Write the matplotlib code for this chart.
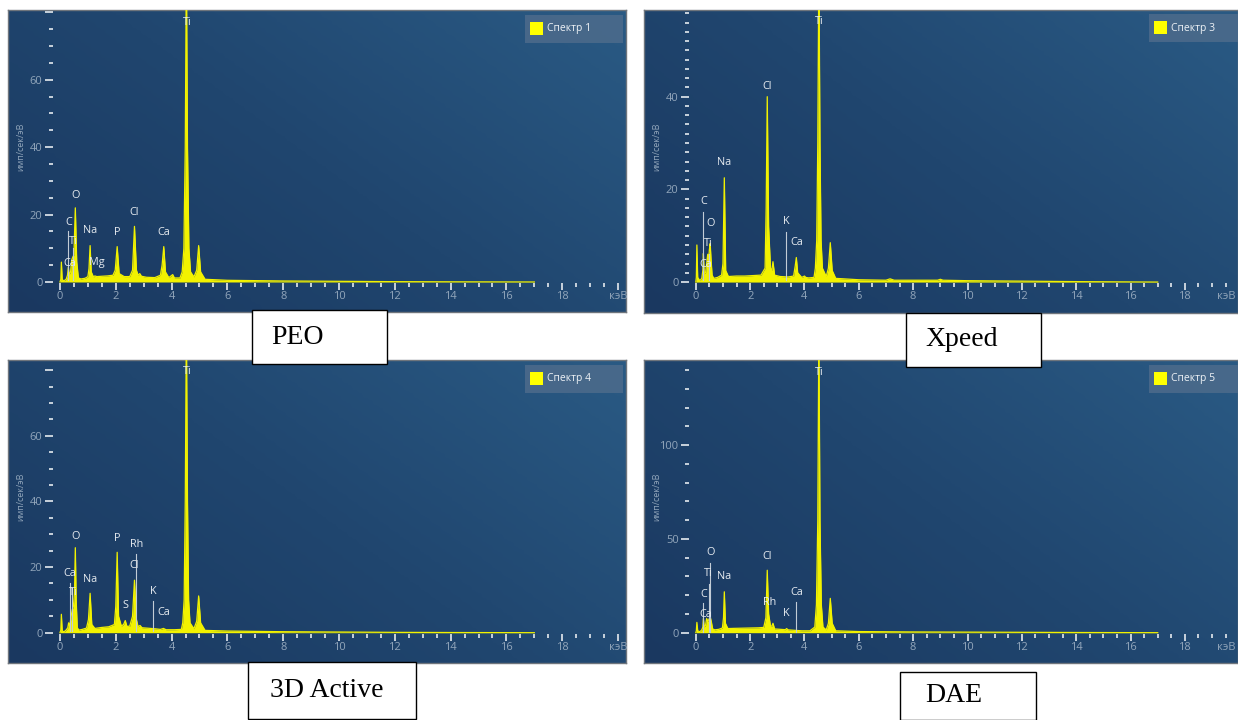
#!/usr/bin/env python
# coding: utf-8

import numpy as np
import matplotlib.pyplot as plt
from matplotlib.colors import LinearSegmentedColormap
from matplotlib.patches import Rectangle
from matplotlib.ticker import MultipleLocator

# --- spectra (energy in keV, counts in имп/сек/эВ) ---
peo_energy = [0.00, 0.03, 0.05, 0.08, 0.15, 0.22, 0.27, 0.30, 0.33, 0.38, 0.42, 0.46, 0.50, 0.55, 0.60, 0.66,
              0.75, 0.90, 1.00, 1.04, 1.08, 1.12, 1.20, 1.25, 1.32, 1.50, 1.70, 1.90, 1.98, 2.05, 2.12, 2.30,
              2.50, 2.60, 2.67, 2.74, 2.80, 2.86, 2.92, 3.10, 3.40, 3.60, 3.66, 3.72, 3.78, 3.90, 3.98, 4.04,
              4.10, 4.30, 4.38, 4.44, 4.49, 4.53, 4.57, 4.62, 4.68, 4.80, 4.90, 4.97, 5.04, 5.20, 6.00, 8.00,
              10.0, 12.0, 14.0, 17.0]
peo_counts = [0.0, 0.8, 5.9, 0.6, 0.4, 0.8, 2.0, 4.4, 2.2, 3.0, 6.5, 7.4, 8.0, 22.0, 6.0, 1.2,
              0.9, 1.1, 1.6, 4.0, 10.8, 3.0, 1.5, 1.8, 1.6, 1.7, 1.8, 2.0, 3.5, 10.5, 2.5, 1.6,
              1.6, 3.5, 16.5, 3.5, 2.0, 2.5, 1.7, 1.4, 1.3, 2.0, 5.0, 10.5, 3.0, 1.3, 1.8, 2.2,
              1.2, 1.2, 3.0, 10.0, 40.0, 95.0, 40.0, 10.0, 3.0, 1.5, 3.5, 10.8, 3.0, 0.8, 0.5, 0.3,
              0.2, 0.1, 0.05, 0.0]

xpeed_energy = [0.00, 0.02, 0.04, 0.07, 0.15, 0.22, 0.26, 0.28, 0.31, 0.36, 0.40, 0.44, 0.47, 0.50, 0.53, 0.56,
                0.60, 0.66, 0.80, 0.95, 1.00, 1.05, 1.10, 1.20, 1.50, 1.80, 2.10, 2.40, 2.55, 2.59, 2.63, 2.68,
                2.75, 2.80, 2.84, 2.90, 3.10, 3.40, 3.60, 3.66, 3.70, 3.75, 3.90, 4.00, 4.05, 4.15, 4.35, 4.40,
                4.45, 4.49, 4.53, 4.57, 4.61, 4.66, 4.80, 4.88, 4.95, 5.02, 5.15, 6.00, 7.00, 7.15, 7.30, 8.90,
                9.00, 9.10, 10.0, 12.0, 14.0, 17.0]
xpeed_counts = [0.0, 1.0, 8.0, 1.0, 0.3, 0.8, 2.5, 6.2, 1.8, 2.0, 4.0, 6.0, 4.5, 7.0, 8.3, 5.0,
                1.5, 0.8, 1.0, 1.5, 4.0, 22.5, 2.5, 1.2, 1.3, 1.3, 1.4, 1.5, 3.0, 16.0, 40.0, 12.0,
                3.0, 2.5, 4.4, 1.5, 1.2, 1.1, 1.3, 3.5, 5.3, 2.0, 1.0, 1.3, 1.0, 0.9, 1.0, 3.0,
                9.0, 30.0, 70.0, 30.0, 9.0, 3.0, 1.2, 3.0, 8.5, 2.5, 0.8, 0.5, 0.4, 0.7, 0.4, 0.4,
                0.6, 0.4, 0.3, 0.2, 0.1, 0.0]

active_energy = [0.00, 0.03, 0.05, 0.08, 0.15, 0.22, 0.28, 0.31, 0.35, 0.40, 0.44, 0.48, 0.52, 0.55, 0.58, 0.62,
                 0.68, 0.80, 0.95, 1.02, 1.08, 1.14, 1.25, 1.50, 1.75, 1.95, 2.00, 2.05, 2.10, 2.20, 2.28, 2.34,
                 2.40, 2.50, 2.60, 2.67, 2.74, 2.80, 2.87, 2.94, 3.10, 3.40, 3.60, 3.71, 3.80, 4.10, 4.35, 4.40,
                 4.45, 4.49, 4.53, 4.57, 4.61, 4.66, 4.80, 4.90, 4.97, 5.04, 5.20, 6.00, 8.00, 10.0, 12.0, 14.0,
                 17.0]
active_counts = [0.0, 0.8, 5.6, 0.5, 0.3, 0.8, 1.5, 3.0, 2.0, 5.0, 7.0, 8.0, 12.0, 25.9, 10.0, 1.5,
                 0.8, 1.0, 1.4, 4.0, 12.0, 2.5, 1.3, 1.6, 1.8, 2.5, 8.0, 24.5, 5.0, 2.0, 2.5, 3.7,
                 1.9, 2.0, 5.0, 16.0, 4.0, 1.8, 2.2, 1.5, 1.4, 1.2, 1.0, 1.3, 0.9, 0.9, 1.0, 3.0,
                 10.0, 40.0, 95.0, 40.0, 10.0, 3.0, 1.2, 3.5, 11.2, 3.0, 0.7, 0.5, 0.3, 0.2, 0.1, 0.05,
                 0.0]

dae_energy = [0.00, 0.02, 0.04, 0.07, 0.15, 0.22, 0.26, 0.28, 0.31, 0.36, 0.40, 0.44, 0.48, 0.53, 0.57, 0.62,
              0.70, 0.85, 0.98, 1.02, 1.05, 1.09, 1.18, 1.40, 1.70, 2.00, 2.30, 2.50, 2.58, 2.63, 2.68, 2.75,
              2.80, 2.84, 2.90, 3.10, 3.30, 3.34, 3.40, 3.70, 3.90, 4.20, 4.38, 4.44, 4.49, 4.53, 4.57, 4.62,
              4.68, 4.80, 4.88, 4.95, 5.02, 5.15, 6.00, 8.00, 10.0, 12.0, 14.0, 17.0]
dae_counts = [0.0, 1.0, 5.5, 1.0, 0.5, 1.5, 3.0, 7.6, 3.0, 4.0, 7.6, 6.0, 7.0, 8.5, 6.0, 2.0,
              1.5, 1.8, 2.5, 8.0, 21.8, 5.0, 2.2, 2.3, 2.4, 2.5, 2.6, 2.8, 8.0, 33.3, 10.0, 3.5,
              3.5, 5.0, 2.0, 1.8, 1.6, 2.2, 1.5, 1.2, 1.0, 1.0, 3.0, 15.0, 60.0, 165.0, 60.0, 15.0,
              3.0, 1.5, 5.0, 18.3, 5.0, 1.0, 0.6, 0.4, 0.3, 0.2, 0.1, 0.0]

# element labels: (name, energy, height)
peo_labels = [('Ti', 4.55, 77.0), ('O', 0.56, 25.6), ('C', 0.30, 17.7), ('Na', 1.08, 15.3), ('P', 2.04, 14.8),
              ('Cl', 2.66, 20.7), ('Ca', 3.71, 14.8), ('Ti', 0.48, 12.1), ('Ca', 0.36, 5.4), ('Mg', 1.32, 5.9)]
xpeed_labels = [('C', 0.28, 17.3), ('O', 0.55, 12.7), ('Ti', 0.47, 8.3), ('Ca', 0.35, 3.7), ('Na', 1.05, 25.8),
                ('Cl', 2.63, 42.2), ('K', 3.32, 13.0), ('Ca', 3.70, 8.5), ('Ti', 4.53, 56.2)]
active_labels = [('O', 0.55, 29.2), ('Ca', 0.36, 18.1), ('Ti', 0.48, 12.3), ('Na', 1.08, 16.3), ('P', 2.04, 28.7),
                 ('Rh', 2.73, 26.9), ('Cl', 2.66, 20.4), ('S', 2.35, 8.2), ('K', 3.33, 12.5), ('Ca', 3.71, 6.2),
                 ('Ti', 4.55, 79.5)]
dae_labels = [('O', 0.53, 42.7), ('Ti', 0.47, 31.6), ('C', 0.28, 20.6), ('Ca', 0.35, 9.8), ('Na', 1.05, 29.8),
              ('Cl', 2.63, 40.4), ('Rh', 2.71, 16.1), ('K', 3.32, 10.3), ('Ca', 3.70, 21.5), ('Ti', 4.53, 138.8)]

# element marker lines: (energy, top)
peo_markers = [(0.30, 15.0), (0.46, 10.0)]
xpeed_markers = [(0.28, 15.2), (0.47, 6.0), (3.32, 10.9)]
active_markers = [(0.36, 15.1), (0.44, 13.6), (2.72, 24.0), (3.33, 9.6)]
dae_markers = [(0.53, 37.4), (0.47, 26.2), (0.28, 15.6), (3.70, 16.5)]

x_ticks = [0, 2, 4, 6, 8, 10, 12, 14, 16, 18, 20]
x_tick_labels = ['0', '2', '4', '6', '8', '10', '12', '14', '16', '18', 'кэВ']

W, H = 1238, 720
YELLOW = '#f2f200'
TICK_COLOR = '#c8d2dc'
LABEL_COLOR = '#92a6bb'
TEXT_COLOR = '#e6ebf0'
UI_FONT = ['Open Sans', 'DejaVu Sans']


def fig_rect(left, top, right, bottom):
	return [left / W, 1 - bottom / H, (right - left) / W, (bottom - top) / H]


def draw_background(fig, box):
	bg = fig.add_axes(fig_rect(*box))
	yy, xx = np.mgrid[0:1:120j, 0:1:120j]
	cmap = LinearSegmentedColormap.from_list('eds', ['#1a3860', '#20466f', '#2a5a84'])
	bg.imshow(0.6 * xx + 0.4 * yy, cmap=cmap, origin='lower', extent=[0, 1, 0, 1], aspect='auto')
	bg.set_xticks([])
	bg.set_yticks([])
	for s in bg.spines.values():
		s.set_color('#6f757c')
		s.set_linewidth(1.0)


def draw_spectrum(fig, box, ylim, energy, counts, y_major, y_minor, y_max_tick, labels, markers, cut_right=False):
	ax = fig.add_axes(fig_rect(*box), facecolor='none')
	ax.fill_between(energy, counts, color=YELLOW, lw=0, zorder=2)
	ax.plot(energy, counts, color=YELLOW, lw=0.9, zorder=2)
	for e, top in markers:
		ax.plot([e, e], [0.5, top], color='#c2ccd6', lw=0.8, zorder=3)
	for name, e, y in labels:
		ax.text(e, y, name, color=TEXT_COLOR, fontsize=7.8, family=UI_FONT, ha='center', va='center', zorder=4)

	ax.set_xlim(-0.25, 20.25)
	ax.set_ylim(*ylim)
	for s in ax.spines.values():
		s.set_visible(False)

	ax.set_xticks(x_ticks)
	tick_labels = list(x_tick_labels)
	if cut_right:
		# the unit label sits on the figure edge: pull it inside
		tick_labels[-1] = ''
		ax.annotate(x_tick_labels[-1], xy=(x_ticks[-1], 0), xycoords=('data', 'axes fraction'),
					xytext=(-2.5, -6.0), textcoords='offset points', ha='right', va='top',
					color=LABEL_COLOR, fontsize=8, family=UI_FONT, annotation_clip=False)
	ax.set_xticklabels(tick_labels)
	ax.xaxis.set_minor_locator(MultipleLocator(0.5))
	yt = list(range(0, y_max_tick + 1, y_major))
	ax.set_yticks(yt)
	ax.set_yticklabels([str(v) if v < ylim[1] - 5 else '' for v in yt])
	ax.yaxis.set_minor_locator(MultipleLocator(y_minor))

	ax.tick_params(axis='both', which='both', color=TICK_COLOR, width=1.4, direction='out',
				   labelcolor=LABEL_COLOR, labelsize=8)
	ax.tick_params(axis='x', which='major', length=5.3, pad=0.5)
	ax.tick_params(axis='x', which='minor', length=2.8)
	ax.tick_params(axis='y', which='major', length=6.0, pad=1.5)
	ax.tick_params(axis='y', which='minor', length=3.0)
	for t in ax.get_xticklabels() + ax.get_yticklabels():
		t.set_family(UI_FONT)

	ax.set_ylabel('имп/сек/эВ', fontsize=6.5, color=LABEL_COLOR, family=UI_FONT)
	ax.yaxis.set_label_coords(-0.049, 0.5)
	return ax


def draw_legend(fig, left, top, name):
	fig.add_artist(Rectangle((left / W, 1 - (top + 28) / H), 98 / W, 28 / H, transform=fig.transFigure,
							 facecolor='#4b6a8b', edgecolor='none', alpha=0.9))
	fig.add_artist(Rectangle(((left + 5) / W, 1 - (top + 20) / H), 13 / W, 13 / H, transform=fig.transFigure,
							 facecolor='#ffff00', edgecolor='none'))
	fig.text((left + 22) / W, 1 - (top + 14) / H, name, color='#eef2f6', fontsize=7.5, family=UI_FONT,
			 ha='left', va='center')


def draw_caption(fig, box, text, text_x):
	left, top, right, bottom = box
	fig.add_artist(Rectangle((left / W, 1 - bottom / H), (right - left) / W, (bottom - top) / H,
							 transform=fig.transFigure, facecolor='white', edgecolor='black', lw=1.0))
	fig.text(text_x / W, 1 - (top + bottom) / 2 / H, text, fontsize=20, family='Liberation Serif',
			 color='black', ha='left', va='center')


def main():
	fig = plt.figure(figsize=(W / 100, H / 100), dpi=100)

	draw_background(fig, (8, 10, 626, 312))
	draw_spectrum(fig, (53, 10, 625, 283), (-0.3, 80.7), peo_energy, peo_counts, 20, 5, 80,
				  peo_labels, peo_markers)
	draw_background(fig, (644, 10, 1238, 313))
	draw_spectrum(fig, (689, 10, 1246, 283), (-0.2, 58.7), xpeed_energy, xpeed_counts, 20, 2, 58,
				  xpeed_labels, xpeed_markers, cut_right=True)
	draw_background(fig, (8, 360, 626, 663))
	draw_spectrum(fig, (53, 360, 625, 634), (-0.4, 83.1), active_energy, active_counts, 20, 5, 80,
				  active_labels, active_markers)
	draw_background(fig, (644, 360, 1238, 663))
	draw_spectrum(fig, (689, 360, 1246, 634), (-0.7, 145.4), dae_energy, dae_counts, 50, 10, 140,
				  dae_labels, dae_markers, cut_right=True)

	draw_legend(fig, 525, 15, 'Спектр 1')
	draw_legend(fig, 1149, 14, 'Спектр 3')
	draw_legend(fig, 525, 365, 'Спектр 4')
	draw_legend(fig, 1149, 365, 'Спектр 5')

	draw_caption(fig, (252, 310, 387, 364), 'PEO', 271)
	draw_caption(fig, (906, 313, 1041, 367), 'Xpeed', 925)
	draw_caption(fig, (248, 662, 416, 719), '3D Active', 270)
	draw_caption(fig, (900, 672, 1036, 720), 'DAE', 925)

	fig.savefig('out.png', dpi=100, facecolor='white')

#--------------------------------------------------------------------

if '__main__' == __name__:
	main()
